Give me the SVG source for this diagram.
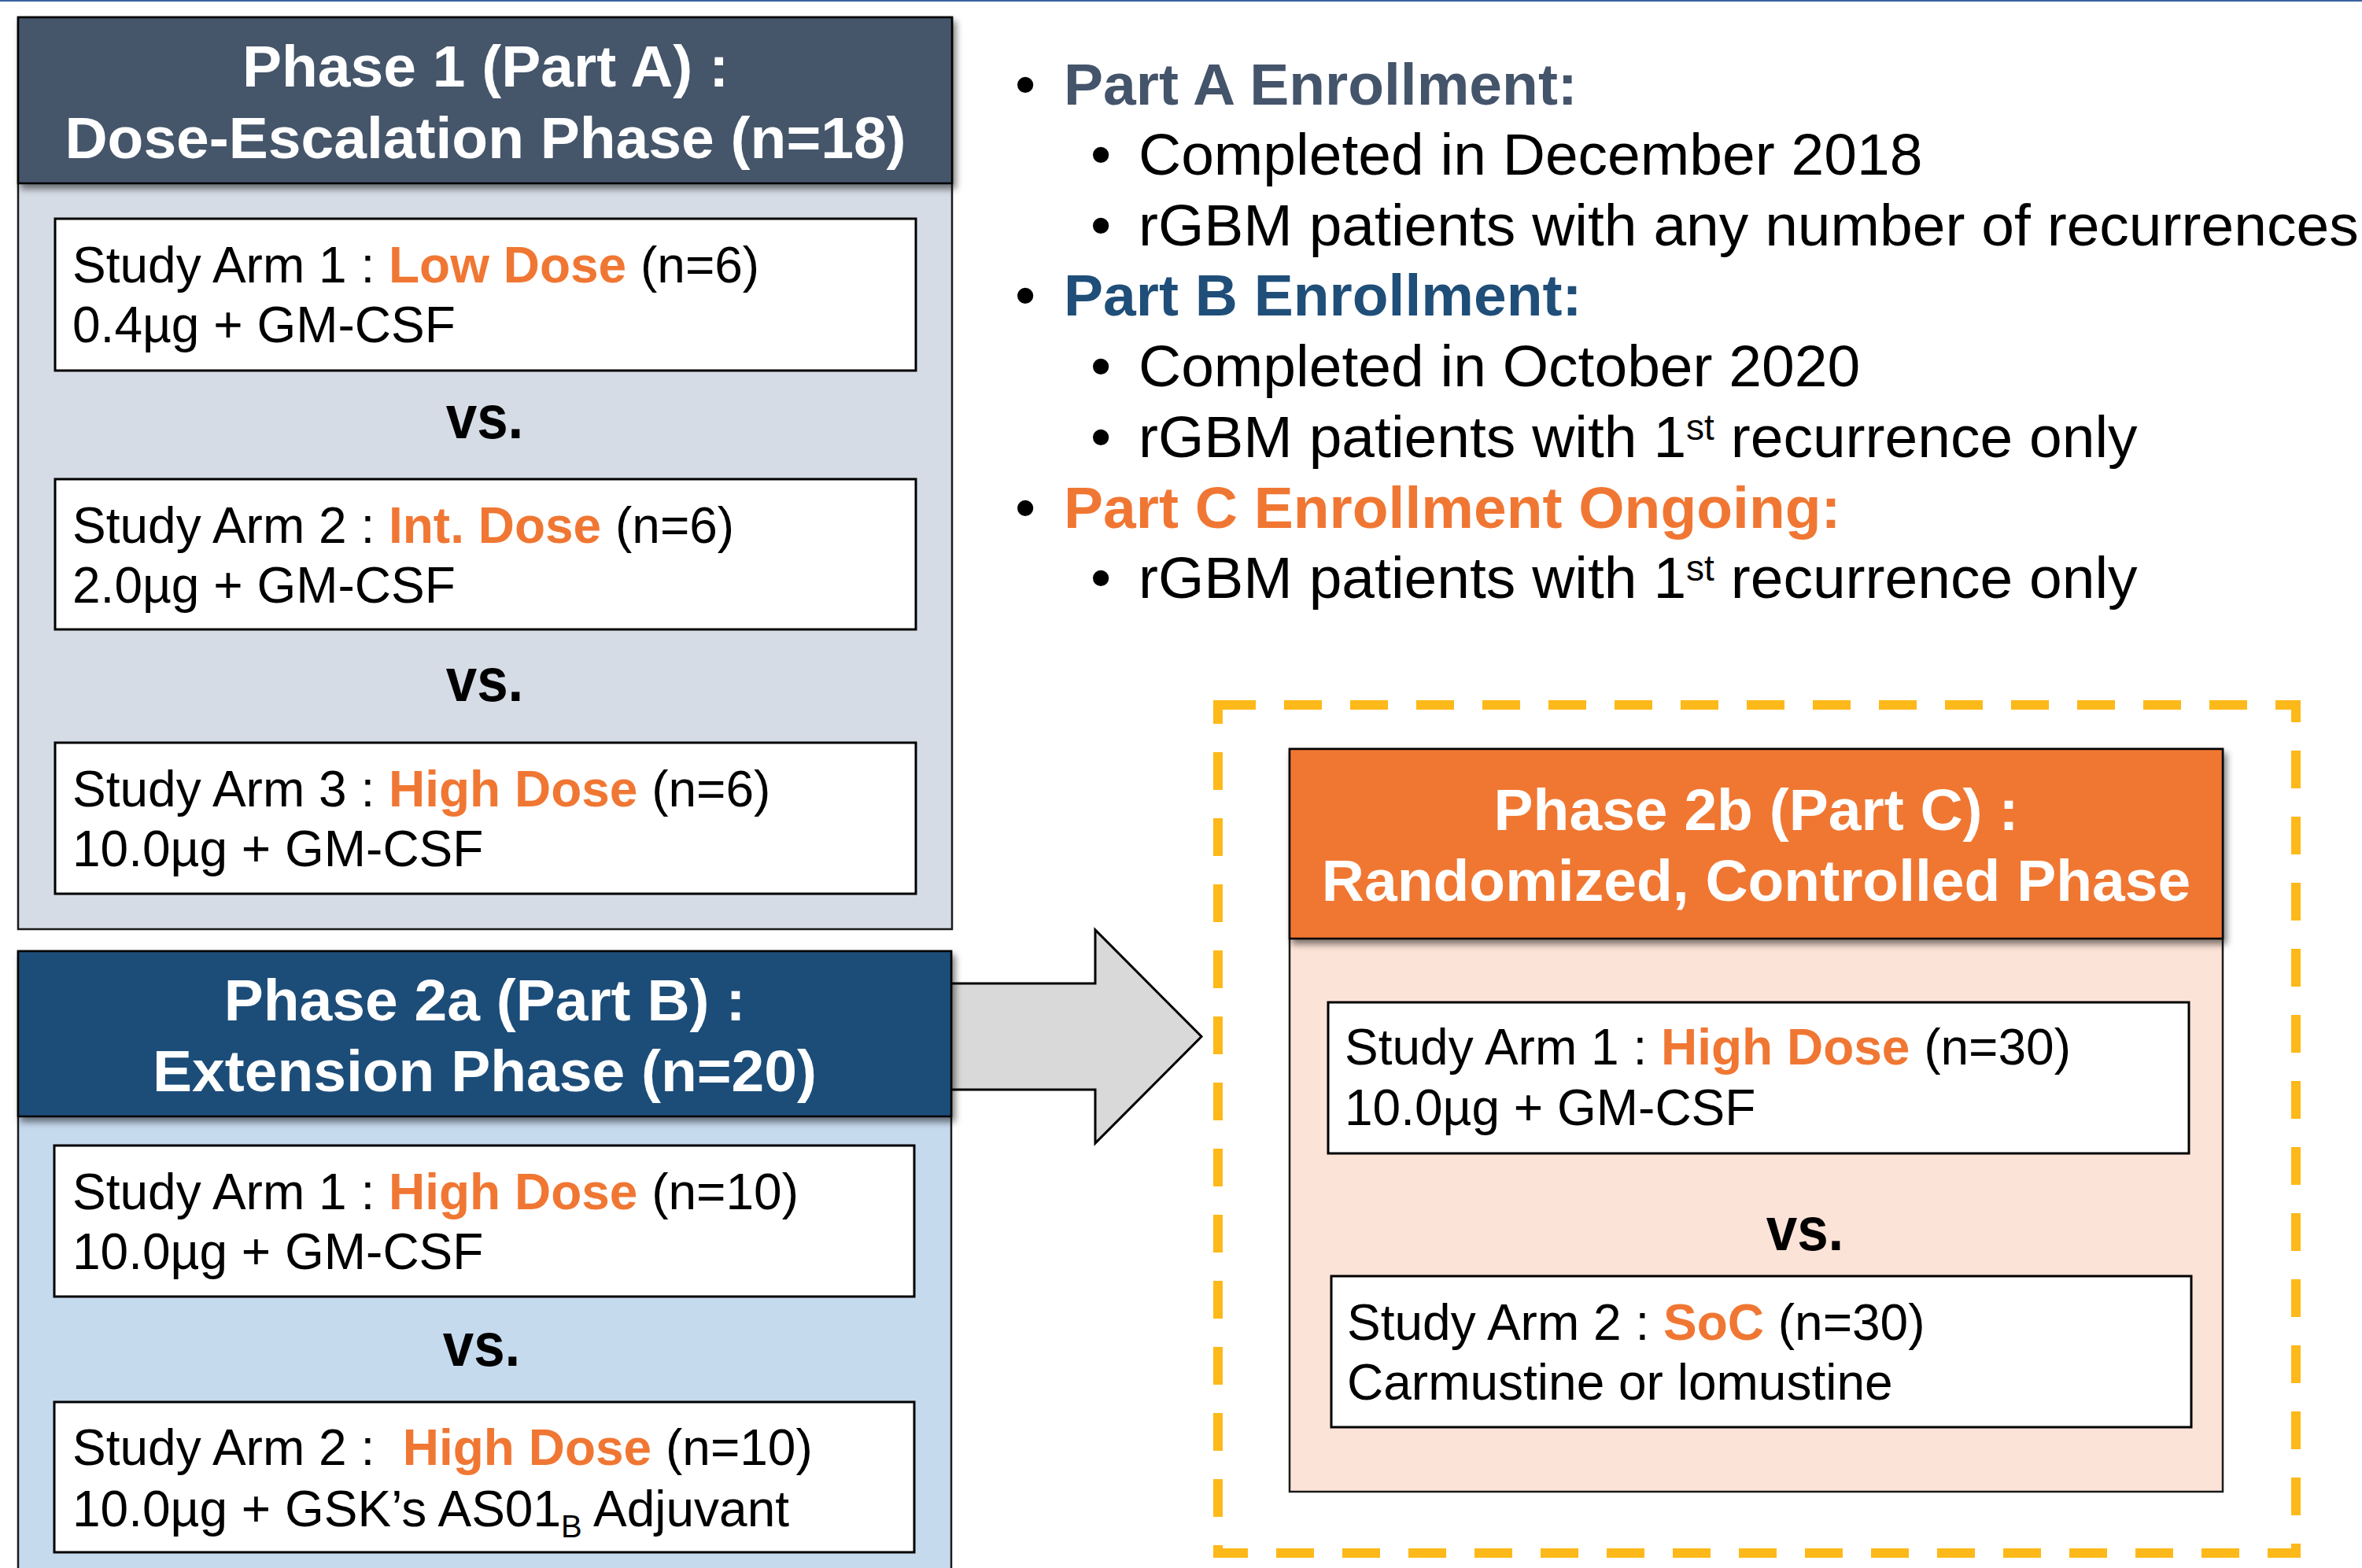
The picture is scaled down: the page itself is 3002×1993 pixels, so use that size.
<svg xmlns="http://www.w3.org/2000/svg" width="3002" height="1993" viewBox="0 0 3002 1993">
  <defs>
    <style>
      text{font-family:"Liberation Sans",Arial,Helvetica,sans-serif;white-space:pre}
      .hd{font-size:75px;font-weight:bold;fill:#ffffff;text-anchor:middle}
      .arm{font-size:64px;fill:#000000}
      .em{font-weight:bold;fill:#f07733}
      .vs{font-size:78px;font-weight:bold;fill:#000000;text-anchor:middle}
      .bl{font-size:75px;fill:#000000}
      .ka{font-size:75px;font-weight:bold;fill:#44546a}
      .kb{font-size:75px;font-weight:bold;fill:#1f4e79}
      .kc{font-size:75px;font-weight:bold;fill:#f07733}
      .sup{font-size:46px}
      .box{fill:#ffffff;stroke:#000000;stroke-width:3}
      .panel{stroke:#1a1a1a;stroke-width:2.5}
      .head{stroke:#000000;stroke-width:2.5}
    </style>
    <filter id="shadow" x="-5%" y="-10%" width="115%" height="130%">
      <feDropShadow dx="4" dy="6" stdDeviation="4" flood-color="#000000" flood-opacity="0.5"/>
    </filter>
  </defs>

  <!-- page background and top rule -->
  <rect x="0" y="0" width="3002" height="1993" fill="#ffffff"/>
  <rect x="0" y="0" width="3002" height="2" fill="#3a63a0"/>

  <!-- connectors -->
  <g id="connectors">
    <polygon points="1150,1250 1392,1250 1392,1182 1527,1317.5 1392,1453 1392,1385 1150,1385"
             fill="#d9d9d9" stroke="#000000" stroke-width="3" stroke-linejoin="miter"/>
  </g>

  <!-- Phase 1 (Part A) -->
  <g id="phase1">
    <rect class="panel" x="23" y="22" width="1187" height="1159" fill="#d6dce5"/>
    <rect class="box" x="70" y="278" width="1094" height="193"/>
    <text class="arm" x="92" y="359">Study Arm 1 : <tspan class="em">Low Dose</tspan> (n=6)</text>
    <text class="arm" x="92" y="435">0.4µg + GM-CSF</text>
    <text class="vs" transform="translate(616 557) scale(0.91 1)">vs.</text>
    <rect class="box" x="70" y="609" width="1094" height="191"/>
    <text class="arm" x="92" y="690">Study Arm 2 : <tspan class="em">Int. Dose</tspan> (n=6)</text>
    <text class="arm" x="92" y="766">2.0µg + GM-CSF</text>
    <text class="vs" transform="translate(616 891) scale(0.91 1)">vs.</text>
    <rect class="box" x="70" y="944" width="1094" height="192"/>
    <text class="arm" x="92" y="1025">Study Arm 3 : <tspan class="em">High Dose</tspan> (n=6)</text>
    <text class="arm" x="92" y="1101">10.0µg + GM-CSF</text>
    <rect class="head" x="23" y="22" width="1187" height="211" fill="#44546a" filter="url(#shadow)"/>
    <text class="hd" x="617" y="110">Phase 1 (Part A) :</text>
    <text class="hd" x="617" y="201">Dose-Escalation Phase (n=18)</text>
  </g>

  <!-- Phase 2a (Part B) -->
  <g id="phase2a">
    <rect class="panel" x="23" y="1209" width="1186" height="820" fill="#c6daee"/>
    <rect class="box" x="69" y="1456" width="1093" height="192"/>
    <text class="arm" x="92" y="1537">Study Arm 1 : <tspan class="em">High Dose</tspan> (n=10)</text>
    <text class="arm" x="92" y="1613">10.0µg + GM-CSF</text>
    <text class="vs" transform="translate(612 1736) scale(0.91 1)">vs.</text>
    <rect class="box" x="69" y="1782" width="1093" height="191"/>
    <text class="arm" x="92" y="1862">Study Arm 2 :  <tspan class="em">High Dose</tspan> (n=10)</text>
    <text class="arm" x="92" y="1940">10.0µg + GSK’s AS01<tspan font-size="40" dy="14">B</tspan><tspan dy="-14"> Adjuvant</tspan></text>
    <rect class="head" x="23" y="1209" width="1186" height="210" fill="#1f4e79" filter="url(#shadow)"/>
    <text class="hd" x="616" y="1297">Phase 2a (Part B) :</text>
    <text class="hd" x="616" y="1387">Extension Phase (n=20)</text>
  </g>

  <!-- enrollment status list -->
  <g id="enrollment">
    <text class="bl" x="1290" y="133">•</text>
    <text class="ka" x="1352" y="133">Part A Enrollment:</text>
    <text class="bl" x="1386" y="222">•</text>
    <text class="bl" x="1447" y="222">Completed in December 2018</text>
    <text class="bl" x="1386" y="312">•</text>
    <text class="bl" x="1447" y="312">rGBM patients with any number of recurrences</text>
    <text class="bl" x="1290" y="401">•</text>
    <text class="kb" x="1352" y="401">Part B Enrollment:</text>
    <text class="bl" x="1386" y="491">•</text>
    <text class="bl" x="1447" y="491">Completed in October 2020</text>
    <text class="bl" x="1386" y="581">•</text>
    <text class="bl" x="1447" y="581">rGBM patients with 1<tspan class="sup" dy="-22">st</tspan><tspan dy="22"> recurrence only</tspan></text>
    <text class="bl" x="1290" y="671">•</text>
    <text class="kc" x="1352" y="671">Part C Enrollment Ongoing:</text>
    <text class="bl" x="1386" y="760">•</text>
    <text class="bl" x="1447" y="760">rGBM patients with 1<tspan class="sup" dy="-22">st</tspan><tspan dy="22"> recurrence only</tspan></text>
  </g>

  <!-- Phase 2b (Part C) inside dashed frame -->
  <g id="phase2b-frame">
    <rect x="1548" y="896" width="1370" height="1078" fill="none" stroke="#fdb91a" stroke-width="12" stroke-dasharray="48 36" stroke-linecap="butt" stroke-linejoin="miter"/>
  </g>
  <g id="phase2b">
    <rect class="panel" x="1639" y="952" width="1186" height="944" fill="#fce3d7"/>
    <rect class="box" x="1688" y="1274" width="1094" height="192"/>
    <text class="arm" x="1709" y="1353">Study Arm 1 : <tspan class="em">High Dose</tspan> (n=30)</text>
    <text class="arm" x="1709" y="1430">10.0µg + GM-CSF</text>
    <text class="vs" transform="translate(2294 1589) scale(0.91 1)">vs.</text>
    <rect class="box" x="1692" y="1622" width="1093" height="192"/>
    <text class="arm" x="1712" y="1703">Study Arm 2 : <tspan class="em">SoC</tspan> (n=30)</text>
    <text class="arm" x="1712" y="1779">Carmustine or lomustine</text>
    <rect class="head" x="1639" y="952" width="1186" height="241" fill="#f07733" filter="url(#shadow)"/>
    <text class="hd" x="2232" y="1055">Phase 2b (Part C) :</text>
    <text class="hd" x="2232" y="1145">Randomized, Controlled Phase</text>
  </g>
</svg>
